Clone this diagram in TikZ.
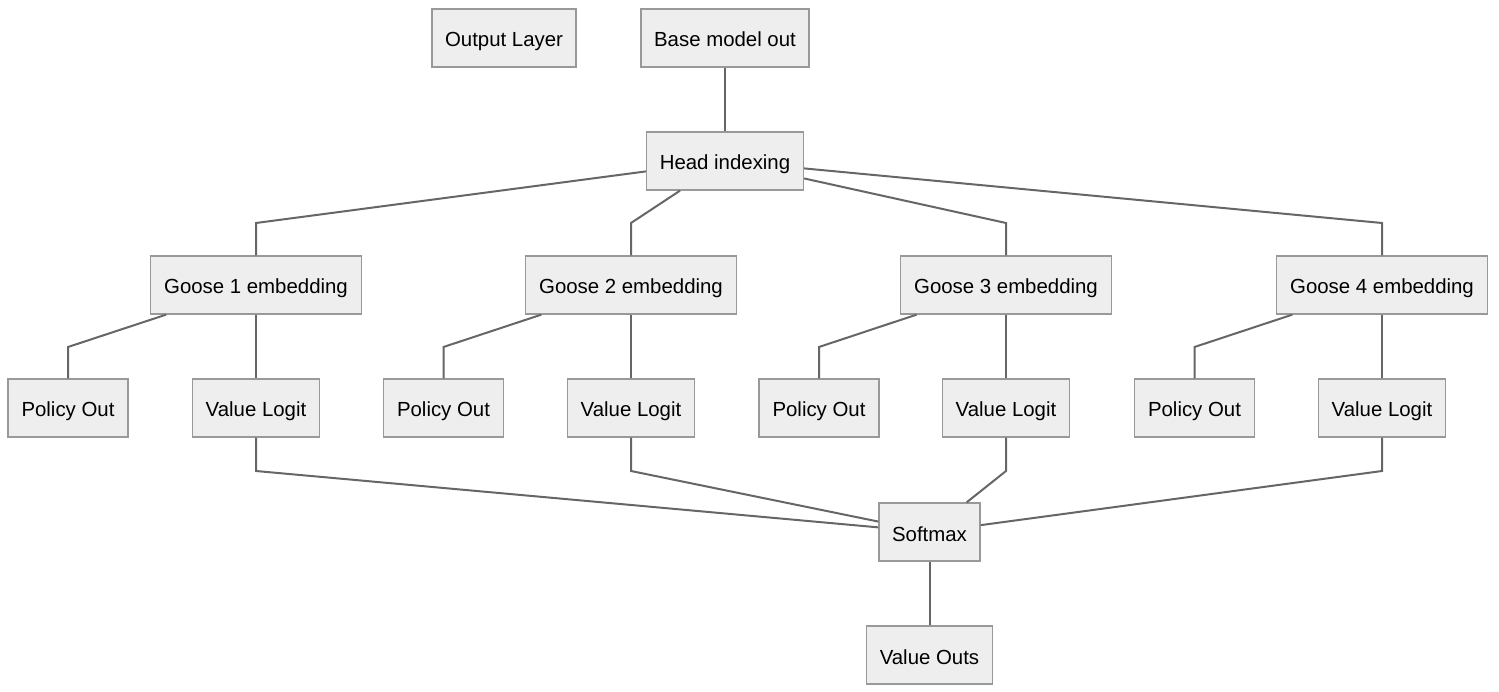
\documentclass[tikz,border=0pt]{standalone}
\usepackage{fontspec}
\setmainfont{Liberation Sans}
\definecolor{boxfill}{HTML}{EEEEEE}
\definecolor{boxline}{HTML}{999999}
\definecolor{edgeline}{HTML}{666666}
\begin{document}
\begin{tikzpicture}[x=1pt,y=-1pt,
  box/.style={draw=boxline,fill=boxfill,line width=1.3pt,rectangle,minimum height=58pt,inner sep=0pt,text height=18pt,text depth=0pt,font=\fontsize{20.4}{24}\selectfont},
  edge/.style={draw=edgeline,line width=2pt}]
\useasboundingbox (0,0) rectangle (1499,692);
\node[box,minimum width=144pt] (outl) at (504,38) {Output Layer};
\node[box,minimum width=168pt] (base) at (725,38) {Base model out};
\node[box,minimum width=157pt] (head) at (725,161) {Head indexing};
\foreach \i/\cx/\px in {1/256/68, 2/631/443.5, 3/1006/819, 4/1382/1194.5}{
  \node[box,minimum width=211pt] (g\i) at (\cx,285) {Goose \i\ embedding};
  \node[box,minimum width=120pt] (p\i) at (\px,408) {Policy Out};
  \node[box,minimum width=127pt] (v\i) at (\cx,408) {Value Logit};
}
\node[box,minimum width=101pt] (soft) at (929.5,532) {Softmax};
\node[box,minimum width=126pt] (vout) at (929.5,655) {Value Outs};

\draw[edge] (base) -- (head);
\draw[edge] (head) -- (256,223) -- (g1.north);
\draw[edge] (head) -- (631,223) -- (g2.north);
\draw[edge] (head) -- (1006,223) -- (g3.north);
\draw[edge] (head) -- (1382,223) -- (g4.north);
\draw[edge] (g1) -- (68,347) -- (p1.north);
\draw[edge] (g2) -- (443.5,347) -- (p2.north);
\draw[edge] (g3) -- (819,347) -- (p3.north);
\draw[edge] (g4) -- (1194.5,347) -- (p4.north);
\draw[edge] (g1) -- (v1);
\draw[edge] (g2) -- (v2);
\draw[edge] (g3) -- (v3);
\draw[edge] (g4) -- (v4);
\draw[edge] (v1.south) -- (256,471) -- (soft);
\draw[edge] (v2.south) -- (631,471) -- (soft);
\draw[edge] (v3.south) -- (1006,471) -- (soft);
\draw[edge] (v4.south) -- (1382,471) -- (soft);
\draw[edge] (soft) -- (vout);
\end{tikzpicture}
\end{document}
